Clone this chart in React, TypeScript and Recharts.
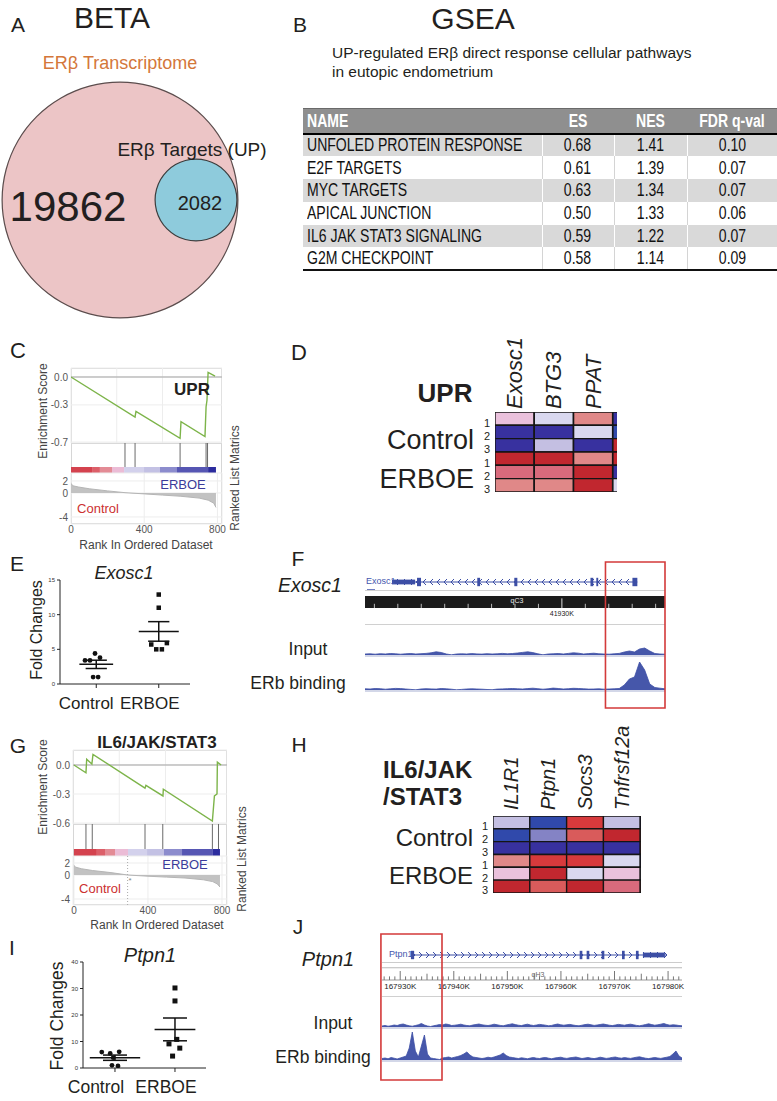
import React from 'react'
import {
  PieChart, Pie, LineChart, Line, AreaChart, Area, ComposedChart, ScatterChart, Scatter,
  BarChart, Bar, Cell, XAxis, YAxis, CartesianGrid, ReferenceLine, ReferenceArea,
} from 'recharts'

const SANS = '"Liberation Sans", Arial, Helvetica, sans-serif'
const INK = '#231f20'
const TRACK = '#3c4ea5'
const M0 = { top: 0, right: 0, bottom: 0, left: 0 }

// A: BETA overlap
const vennCounts = [19862, 2082]

// B: GSEA table
const pathwayNames = ['UNFOLED PROTEIN RESPONSE', 'E2F TARGETS', 'MYC TARGETS', 'APICAL JUNCTION', 'IL6 JAK STAT3 SIGNALING', 'G2M CHECKPOINT']
const esValues = [0.68, 0.61, 0.63, 0.5, 0.59, 0.58]
const nesValues = [1.41, 1.39, 1.34, 1.33, 1.22, 1.14]
const fdrValues = [0.1, 0.07, 0.07, 0.06, 0.07, 0.09]
const tableHead = ['NAME', 'ES', 'NES', 'FDR q-val']

// C / G: enrichment plots (rank, running ES)
const uprRank = [0, 350, 355, 596, 601, 732, 738, 743, 749, 787]
const uprES = [0, -0.43, -0.37, -0.66, -0.48, -0.64, -0.32, -0.25, 0.05, 0.01]
const uprHits = [295, 350, 596, 738, 746]
const uprBarEdges = [0, 115, 158, 224, 290, 399, 486, 579, 749, 792]
const uprMetricRank = [0, 10, 40, 100, 200, 295, 400, 500, 600, 700, 750, 780, 792]
const uprMetric = [1.6, 1.2, 1.0, 0.7, 0.35, 0.05, -0.15, -0.35, -0.55, -0.85, -1.2, -1.7, -2.4]

const il6Rank = [0, 65, 69, 97, 103, 384, 389, 481, 483, 748, 759, 773, 775, 795]
const il6ES = [0, -0.08, 0.06, 0.01, 0.11, -0.24, -0.21, -0.32, -0.25, -0.58, -0.32, -0.3, 0.03, 0]
const il6Hits = [65, 99, 384, 480, 748, 781]
const il6BarEdges = [0, 124, 168, 222, 292, 395, 486, 584, 751, 789]
const il6MetricRank = [0, 10, 40, 100, 200, 290, 400, 500, 600, 700, 750, 775, 789]
const il6Metric = [1.6, 1.3, 1.05, 0.75, 0.4, 0, -0.2, -0.35, -0.5, -0.8, -1.1, -1.5, -2.0]
const il6ZeroCross = 290
const gseaBarColors = ['#d4424e', '#dc5f69', '#e38b95', '#ebbcd6', '#d3d1ec', '#c3c1e4', '#8c8ccd', '#5656b3', '#2c2c9e']

// D / H: heatmaps (level index into palette, -4..6)
const heatPalette = ['#38319f', '#3049ab', '#8483c5', '#c4bfe2', '#d9d8ef', '#eac1dc', '#e08888', '#d96a7c', '#d95b5b', '#d73a3c', '#c1272f']
const uprGenes = ['Exosc1', 'BTG3', 'PPAT', '']
const uprLevels = [[1, 0, 2, -4], [-4, -4, 0, -3], [-4, -1, -4, 6], [6, 6, 2, 6], [3, 3, 6, -4], [2, 2, 6, 0]]
const il6Genes = ['IL1R1', 'Ptpn1', 'Socs3', 'Tnfrsf12a', '']
const il6Levels = [[-1, -3, 5, -1, -4], [-3, -2, 4, 6, 5], [-4, -4, -4, -4, 5], [2, 5, 5, 0, -4], [1, 6, 0, 1, -1], [6, 4, 6, 3, 5]]
const replicateLabels = ['1', '2', '3', '1', '2', '3']

// E / I: qPCR fold changes
const groups = ['Control', 'ERBOE']
const exoscCtrl = [4.4, 3.8, 3.4, 3.4, 1.0, 1.0]
const exoscErb = [12.9, 11.0, 5.7, 5.0, 5.0, 5.9]
const exoscCtrlJit = [-0.02, 0.06, -0.1, -0.18, -0.05, 0.03]
const exoscErbJit = [0, 0, -0.12, -0.04, 0.05, 0.13]
const ptpnCtrl = [6.0, 5.5, 6.1, 3.9, 1.0, 0.8]
const ptpnErb = [30.2, 25.3, 9.1, 10.8, 7.5, 4.5]
const ptpnCtrlJit = [-0.22, -0.08, 0.07, -0.03, -0.05, 0.05]
const ptpnErbJit = [0, 0, -0.1, 0.03, 0.08, -0.04]

// F / J: ChIP-seq browser views (kb)
const exoscDomain = [41921.6, 41934.4]
const exoscGene = [41922.75, 41933.22]
const exoscThick = [41922.75, 41923.74]
const exoscExons = [[41923.82, 41923.99], [41926.39, 41926.51], [41927.97, 41928.1], [41931.22, 41931.34], [41931.47, 41931.55], [41933.01, 41933.22]]
const exoscRulerKb = [41922, 41923, 41924, 41925, 41926, 41927, 41928, 41929, 41931, 41932, 41933, 41934]
const exoscLabelKb = [41930]
const exoscBox = [41931.86, 41934.4]
const exoscInput = [1, 1.2, 0.8, 1.3, 1, 1.5, 1.2, 0.8, 1.2, 1.5, 1, 1.3, 1.6, 2.2, 3.2, 2.5, 1, 0.2, 1, 1.2,
  1, 1.4, 1.1, 0.9, 1.3, 1, 1.2, 1.6, 1.2, 1.5, 2, 2.6, 3.2, 2.4, 1.2, 0.2, 1, 1.2, 1.5, 1,
  1.6, 2.2, 1.8, 1, 1.4, 1.8, 1.2, 1, 0.8, 1.2, 1.6, 3, 4, 3, 6, 7, 4, 1.5, 1, 0.8]
const exoscErbBinding = [1.2, 1, 1.5, 1.3, 0.8, 1.2, 1.6, 1.4, 1, 0.6, 0.2, 1, 1.3, 1.1, 0.9, 1.5, 1.2, 0.8, 0.2, 0.6,
  1, 1.2, 1, 0.8, 0.5, 0.3, 0.9, 1.1, 1.3, 1.5, 1.2, 1, 1.4, 1.8, 1.3, 0.8, 1.2, 1.9, 1.5, 1,
  1.3, 1.7, 1.5, 1.2, 0.9, 1, 1.2, 0.8, 1, 1.2, 1.5, 5, 11, 13, 28, 20, 6, 2.5, 1.8, 1.2]

const ptpnDomain = [167926.6, 167982.6]
const ptpnGene = [167932.0, 167979.8]
const ptpnThick = [167975.3, 167979.4]
const ptpnExons = [[167932.0, 167932.6], [167963.5, 167964.0], [167964.8, 167965.3], [167967.6, 167968.1], [167971.4, 167971.9], [167974.0, 167974.5]]
const ptpnLabelKb = [167930, 167940, 167950, 167960, 167970, 167980]
const ptpnBox = [167926.4, 167937.8]
const ptpnInput = [1, 1.5, 0.8, 1.2, 2, 1.5, 2.5, 3, 2, 1.2, 0.8, 1.5, 2.2, 3.5, 2, 1, 0.5, 1.2, 1.8, 2.5,
  2, 3, 2.5, 1.5, 1.8, 2.2, 2.8, 2, 1.5, 1.2, 2, 2.5, 3, 2.2, 1.8, 1.5, 2, 2.8, 2.2, 1.6,
  1.2, 2, 2.6, 3.2, 2.4, 1.8, 1.4, 2.2, 2.8, 2, 1.5, 2, 2.6, 2.2, 1.8, 1.2, 1.6, 2.4, 3, 2.2,
  1.8, 2.2, 2.6, 2, 1.5, 1.2, 1.8, 2.4, 2.8, 2.2, 1.6, 2, 2.5, 3, 2.4, 1.8, 1.4, 2, 2.6, 2.2,
  1.8, 2.4, 2.8, 2.2, 1.6, 1.2, 1.8, 2.5, 3.2, 2.4, 1.8, 2.2, 2.8, 3.5, 2.5, 1.8, 2.2, 2, 1.5, 1.2]
const ptpnErbBinding = [1.5, 2, 1.2, 2.5, 1.8, 1, 2, 3, 4, 12, 28, 9, 3, 14, 25, 6, 2, 1.5, 1, 0.5,
  2, 2.5, 3, 2, 2.8, 3.5, 4.5, 6, 8, 5, 3, 2.5, 2, 1.5, 2, 2.8, 2.2, 3, 4, 5,
  7, 4.5, 3, 2.5, 2, 1.5, 2.2, 1.8, 1.2, 2, 2.5, 1.8, 1.5, 2.2, 2.5, 1.8, 1.2, 2, 2.4, 2.8,
  2, 1.6, 2.2, 2.6, 3, 2.2, 1.5, 2, 2.5, 1.8, 1.4, 2, 2.8, 2.2, 1.6, 2, 2.6, 3, 2.2, 1.8,
  2.4, 2, 1.6, 2.2, 2.8, 3.2, 2.4, 1.8, 1.4, 2, 2.5, 2, 1.6, 2.2, 2.8, 3.5, 6, 9, 4, 2]

function Txt({ x, y, size, children, anchor = 'middle', color = INK, bold = false, italic = false, rot = false }: any) {
  const tx = anchor === 'start' ? '0' : anchor === 'end' ? '-100%' : '-50%'
  return (
    <div style={{
      position: 'absolute', left: x, top: y, whiteSpace: 'nowrap', lineHeight: 1.15,
      fontFamily: SANS, fontSize: size, color, fontWeight: bold ? 700 : 400,
      fontStyle: italic ? 'italic' : 'normal',
      transform: `translate(${tx}, -50%)${rot ? ' rotate(-90deg)' : ''}`,
    }}>{children}</div>
  )
}

function HLine({ x, y, w, color = '#c8c8c8', h = 1 }: any) {
  return <div style={{ position: 'absolute', left: x, top: y, width: w, height: h, background: color }} />
}

function Venn() {
  return (
    <div style={{ position: 'absolute', left: 0, top: 80 }}>
      <PieChart width={242} height={242} margin={M0}>
        <Pie data={[{ v: vennCounts[0] }]} dataKey="v" cx={120} cy={120} outerRadius={118} fill="#ecc5c6" stroke="none" isAnimationActive={false} />
        <Pie data={[{ v: vennCounts[0] }]} dataKey="v" cx={120} cy={120} innerRadius={117.3} outerRadius={118.5} fill="#5b4d4d" stroke="none" isAnimationActive={false} />
        <Pie data={[{ v: vennCounts[1] }]} dataKey="v" cx={196} cy={120} outerRadius={41} fill="#8ecbdc" stroke="none" isAnimationActive={false} />
        <Pie data={[{ v: vennCounts[1] }]} dataKey="v" cx={196} cy={120} innerRadius={40.3} outerRadius={41.5} fill="#3d3d3d" stroke="none" isAnimationActive={false} />
      </PieChart>
    </div>
  )
}

// Calibri-like narrow look: Liberation Sans squeezed horizontally
function Narrow({ children, left }: any) {
  return (
    <span style={{ display: 'inline-block', transform: 'scaleX(0.78)', transformOrigin: left ? 'left center' : 'center center' }}>{children}</span>
  )
}

function GseaTable() {
  const cols = [239, 72, 73, 90]
  const cell = (r: number, c: number): React.CSSProperties => ({
    padding: c === 0 ? '0 0 0 4px' : 0,
    textAlign: c === 0 ? 'left' : 'center',
    borderLeft: c === 0 ? 'none' : `1.5px solid ${r % 2 === 0 ? '#ffffff' : '#d4d4d4'}`,
    borderBottom: r === pathwayNames.length - 1 ? '2px solid #111' : 'none',
    whiteSpace: 'nowrap',
    overflow: 'visible',
  })
  return (
    <table style={{ position: 'absolute', left: 303, top: 108, width: 474, borderCollapse: 'collapse', tableLayout: 'fixed', fontFamily: SANS, fontSize: 18, color: '#111', lineHeight: 1 }}>
      <colgroup>{cols.map((w, i) => <col key={i} style={{ width: w }} />)}</colgroup>
      <thead>
        <tr style={{ height: 25, background: '#8f8f8f', color: '#fff' }}>
          {tableHead.map((h, i) => (
            <th key={h} style={{ padding: i === 0 ? '0 0 0 4px' : 0, textAlign: i === 0 ? 'left' : 'center', borderTop: '1.5px solid #6a6a6a', borderBottom: '2.5px solid #000', fontWeight: 700, whiteSpace: 'nowrap' }}>
              <Narrow left={i === 0}>{h}</Narrow>
            </th>
          ))}
        </tr>
      </thead>
      <tbody>
        {pathwayNames.map((n, r) => (
          <tr key={n} style={{ height: 22.8, background: r % 2 === 0 ? '#d9d9d9' : '#fff' }}>
            <td style={cell(r, 0)}><Narrow left>{n}</Narrow></td>
            <td style={cell(r, 1)}><Narrow>{esValues[r].toFixed(2)}</Narrow></td>
            <td style={cell(r, 2)}><Narrow>{nesValues[r].toFixed(2)}</Narrow></td>
            <td style={cell(r, 3)}><Narrow>{fdrValues[r].toFixed(2)}</Narrow></td>
          </tr>
        ))}
      </tbody>
    </table>
  )
}

function Gsea(p: any) {
  const yw = 28
  const pad = 7
  const tick = { fontSize: 10, fill: '#555', fontFamily: SANS }
  const esData = p.rank.map((r: number, i: number) => ({ r, es: p.es[i] }))
  const mData = p.metricRank.map((r: number, i: number) => ({ r, m: p.metric[i] }))
  const hitData = p.hits.map((r: number) => ({ r, y: 1 }))
  const barFrac = p.barH / (p.hitH + p.barH)
  const hitTop = p.top + p.esH
  const rankTop = hitTop + p.hitH + p.barH
  return (
    <>
      <div style={{ position: 'absolute', left: p.plotLeft, top: p.top, width: p.plotW, height: rankTop + p.rankH - p.top, border: '1px solid #d6d6d6', boxSizing: 'border-box' }} />
      <HLine x={p.plotLeft} y={hitTop} w={p.plotW} color="#c4c4c4" />
      <div style={{ position: 'absolute', left: p.plotLeft - yw, top: p.top - pad }}>
        <LineChart width={yw + p.plotW} height={p.esH + 2 * pad} data={esData} margin={{ top: pad, right: 0, bottom: pad, left: 0 }}>
          <CartesianGrid stroke="#ededed" />
          <XAxis type="number" dataKey="r" domain={p.xDomain} allowDataOverflow hide />
          <YAxis type="number" domain={p.esDomain} allowDataOverflow ticks={p.esTicks} interval={0} width={yw} tick={tick}
            tickFormatter={(v: number) => v.toFixed(1)} axisLine={false} tickLine={false} tickSize={0} tickMargin={3} />
          <ReferenceLine y={0} stroke="#a3a3a3" />
          <Line type="linear" dataKey="es" stroke="#7db44a" strokeWidth={1.4} dot={false} isAnimationActive={false} />
        </LineChart>
      </div>
      <div style={{ position: 'absolute', left: p.plotLeft, top: hitTop }}>
        <ComposedChart width={p.plotW} height={p.hitH + p.barH} data={hitData} margin={M0}>
          <XAxis type="number" dataKey="r" domain={p.xDomain} allowDataOverflow hide />
          <YAxis type="number" domain={[0, 1]} allowDataOverflow hide />
          {p.barEdges.slice(1).map((e: number, i: number) => (
            <ReferenceArea key={'b' + i} x1={p.barEdges[i]} x2={e} y1={0} y2={barFrac} fill={gseaBarColors[i]} fillOpacity={1} stroke="none" />
          ))}
          {p.hits.map((h: number) => (
            <ReferenceLine key={'h' + h} segment={[{ x: h, y: barFrac }, { x: h, y: 1 }]} stroke="#6a6a6a" strokeWidth={1} />
          ))}
          <Line dataKey="y" stroke="none" dot={false} isAnimationActive={false} />
        </ComposedChart>
      </div>
      <div style={{ position: 'absolute', left: p.plotLeft - yw, top: rankTop - pad }}>
        <AreaChart width={yw + p.plotW + 12} height={p.rankH + 16 + pad} data={mData} margin={{ top: pad, right: 12, bottom: 0, left: 0 }}>
          <CartesianGrid stroke="#ededed" />
          <XAxis type="number" dataKey="r" domain={p.xDomain} allowDataOverflow ticks={[0, 400, 800]} interval={0} height={16}
            tick={tick} axisLine={false} tickLine={false} tickSize={0} tickMargin={2} />
          <YAxis type="number" domain={p.rankDomain} allowDataOverflow ticks={[2, 0, -4]} interval={0} width={yw} tick={tick}
            axisLine={false} tickLine={false} tickSize={0} tickMargin={3} />
          {p.zeroCross != null && <ReferenceLine x={p.zeroCross} stroke="#aaa" strokeDasharray="1 2" />}
          <Area type="linear" dataKey="m" stroke="#b5b5b5" fill="#c2c2c2" fillOpacity={1} isAnimationActive={false} />
        </AreaChart>
      </div>
    </>
  )
}

function Heatmap({ left, top, genes, levels, cellW, cellH, visibleW, labelH, gap, labelSize }: any) {
  const yw = 16
  const n = levels.length
  const data = genes.map((g: string) => {
    const o: any = { g }
    for (let r = 0; r < n; r++) o['r' + r] = 1
    return o
  })
  const GeneTick = (t: any) => t.payload && t.payload.value ? (
    <text x={t.x} y={labelH - gap} transform={`rotate(-90, ${t.x}, ${labelH - gap})`} textAnchor="start" dominantBaseline="central"
      fontSize={labelSize} fontStyle="italic" fontFamily={SANS} fill={INK}>{t.payload.value}</text>
  ) : <g />
  return (
    <>
      <div style={{ position: 'absolute', left, top: top - labelH, width: visibleW, height: labelH + n * cellH + 1, overflow: 'hidden' }}>
        <BarChart width={genes.length * cellW} height={labelH + n * cellH} data={data} margin={M0} barCategoryGap={0} barGap={0}>
          <XAxis dataKey="g" orientation="top" height={labelH} axisLine={false} tickLine={false} interval={0} tick={GeneTick} />
          <YAxis type="number" domain={[0, n]} allowDataOverflow reversed hide />
          {levels.map((row: number[], r: number) => (
            <Bar key={r} dataKey={'r' + r} stackId="h" isAnimationActive={false} stroke="#151515" strokeWidth={1.4}>
              {row.map((lv, c) => <Cell key={c} fill={heatPalette[lv + 4]} />)}
            </Bar>
          ))}
        </BarChart>
      </div>
      <div style={{ position: 'absolute', left: left - yw, top: top - 6 }}>
        <BarChart width={yw} height={n * cellH + 12} data={data} margin={{ top: 6, right: 0, bottom: 6, left: 0 }}>
          <XAxis dataKey="g" hide />
          <YAxis type="number" domain={[0, n]} allowDataOverflow reversed ticks={levels.map((_: any, r: number) => r + 0.5)} interval={0}
            tickFormatter={(v: number) => replicateLabels[Math.floor(v)]} width={yw} axisLine={false} tickLine={false} tickSize={0} tickMargin={5}
            tick={{ fontSize: 11, fill: INK, fontFamily: SANS, dy: 4 }} />
        </BarChart>
      </div>
    </>
  )
}

function stats(a: number[]) {
  const m = a.reduce((s, v) => s + v, 0) / a.length
  const sd = Math.sqrt(a.reduce((s, v) => s + (v - m) ** 2, 0) / (a.length - 1))
  return [m, sd / Math.sqrt(a.length)]
}

function DotPlot(p: any) {
  const yw = 22
  const ctrlData = p.ctrl.map((v: number, i: number) => ({ x: p.ctrlJit[i], y: v }))
  const erbData = p.erb.map((v: number, i: number) => ({ x: 1 + p.erbJit[i], y: v }))
  const st = [stats(p.ctrl), stats(p.erb)]
  const GroupTick = (t: any) => (
    <text x={t.x + p.labelDx[t.index]} y={t.y} dy={p.labelSize * 1.1} textAnchor="middle" fontSize={p.labelSize} fontFamily={SANS} fill={INK}>
      {groups[t.payload.value]}
    </text>
  )
  const ln = { stroke: '#111', strokeWidth: 1.5 }
  return (
    <div style={{ position: 'absolute', left: p.left - yw, top: p.top - 5 }}>
      <ScatterChart width={yw + p.plotW + 4} height={5 + p.plotH + 32} margin={{ top: 5, right: 4, bottom: 0, left: 0 }}>
        <XAxis type="number" dataKey="x" domain={p.xDomain} allowDataOverflow ticks={[0, 1]} interval={0} height={32} tickSize={4}
          stroke="#222" tick={GroupTick} />
        <YAxis type="number" dataKey="y" domain={p.yDomain} allowDataOverflow ticks={p.yTicks} interval={0} width={yw} tickSize={3}
          stroke="#222" tick={{ fontSize: 6, fill: '#333', fontFamily: SANS }} />
        {st.flatMap(([m, se], g) => [
          <ReferenceLine key={'m' + g} segment={[{ x: g - p.meanHW[g], y: m }, { x: g + p.meanHW[g], y: m }]} {...ln} />,
          <ReferenceLine key={'u' + g} segment={[{ x: g - p.semHW, y: m + se }, { x: g + p.semHW, y: m + se }]} {...ln} />,
          <ReferenceLine key={'d' + g} segment={[{ x: g - p.semHW, y: m - se }, { x: g + p.semHW, y: m - se }]} {...ln} />,
          <ReferenceLine key={'v' + g} segment={[{ x: g, y: m - se }, { x: g, y: m + se }]} {...ln} />,
        ])}
        <Scatter data={ctrlData} isAnimationActive={false}
          shape={(s: any) => <circle cx={s.cx} cy={s.cy} r={2.4} fill="#111" />} />
        <Scatter data={erbData} isAnimationActive={false}
          shape={(s: any) => <rect x={s.cx - p.sq / 2} y={s.cy - p.sq / 2} width={p.sq} height={p.sq} fill="#111" />} />
      </ScatterChart>
    </div>
  )
}

function GeneTrack({ left, top, width, domain, gene, thick, exons, strand, id }: any) {
  const chev = strand < 0 ? 'M5,1 L2,4 L5,7' : 'M2,1 L5,4 L2,7'
  return (
    <div style={{ position: 'absolute', left, top }}>
      <LineChart width={width} height={12} data={[{ x: gene[0], y: 0 }, { x: gene[1], y: 0 }]} margin={M0}>
        <defs>
          <pattern id={id} x={0} y={2} width={7} height={8} patternUnits="userSpaceOnUse">
            <path d={chev} stroke={TRACK} fill="none" strokeWidth={1} />
          </pattern>
        </defs>
        <XAxis type="number" dataKey="x" domain={domain} allowDataOverflow hide />
        <YAxis type="number" domain={[-1, 1]} allowDataOverflow hide />
        <ReferenceArea x1={gene[0]} x2={gene[1]} y1={-0.67} y2={0.67} fill={`url(#${id})`} fillOpacity={1} stroke="none" />
        <Line dataKey="y" stroke={TRACK} strokeWidth={1.2} dot={false} isAnimationActive={false} />
        <ReferenceArea x1={thick[0]} x2={thick[1]} y1={-0.4} y2={0.4} fill={TRACK} fillOpacity={1} stroke="none" />
        {exons.map((e: number[], i: number) => (
          <ReferenceArea key={i} x1={e[0]} x2={e[1]} y1={-0.7} y2={0.7} fill={TRACK} fillOpacity={1} stroke="none" />
        ))}
      </LineChart>
    </div>
  )
}

function Track({ left, top, width, height, values, max }: any) {
  const data = values.map((v: number, i: number) => ({ i, v }))
  return (
    <div style={{ position: 'absolute', left, top }}>
      <AreaChart width={width} height={height} data={data} margin={M0}>
        <XAxis type="number" dataKey="i" domain={[0, values.length - 1]} allowDataOverflow hide />
        <YAxis type="number" domain={[0, max]} allowDataOverflow hide />
        <Area type="linear" dataKey="v" stroke={TRACK} strokeWidth={0.8} fill={TRACK} fillOpacity={0.95} isAnimationActive={false} />
      </AreaChart>
    </div>
  )
}

function Highlight({ left, top, width, height, domain, box }: any) {
  return (
    <div style={{ position: 'absolute', left, top }}>
      <LineChart width={width} height={height} data={[{ x: domain[0] }, { x: domain[1] }]} margin={{ top: 1, right: 0, bottom: 1, left: 0 }}>
        <XAxis type="number" dataKey="x" domain={domain} allowDataOverflow hide />
        <YAxis type="number" domain={[0, 1]} allowDataOverflow hide />
        <ReferenceArea x1={box[0]} x2={box[1]} y1={0} y2={1} fill="none" fillOpacity={0} stroke="#d33a3a" strokeWidth={1.6} ifOverflow="visible" />
      </LineChart>
    </div>
  )
}

function ExoscIdeogram() {
  return (
    <div style={{ position: 'absolute', left: 365, top: 596 }}>
      <ComposedChart width={300} height={26} data={[{ x: exoscDomain[0] }, { x: exoscDomain[1] }]} margin={M0}>
        <XAxis type="number" dataKey="x" domain={exoscDomain} allowDataOverflow ticks={exoscLabelKb} interval={0} height={14}
          tickFormatter={(v: number) => `${v}K`} tick={{ fontSize: 7, fill: '#222', fontFamily: SANS }} axisLine={false} tickLine={false} tickSize={0} tickMargin={3} />
        <YAxis type="number" domain={[0, 1]} allowDataOverflow hide />
        <ReferenceArea x1={exoscDomain[0]} x2={exoscDomain[1]} y1={0} y2={1} fill="#1c1c1c" fillOpacity={1} stroke="none" />
        {exoscRulerKb.map((k) => (
          <ReferenceLine key={k} segment={[{ x: k, y: 0 }, { x: k, y: 0.35 }]} stroke="#bbb" />
        ))}
        {exoscLabelKb.map((k) => (
          <ReferenceLine key={'L' + k} segment={[{ x: k, y: 0 }, { x: k, y: 0.8 }]} stroke="#ddd" />
        ))}
      </ComposedChart>
    </div>
  )
}

function PtpnRuler() {
  const minor: number[] = []
  for (let k = Math.ceil(ptpnDomain[0]); k <= ptpnDomain[1]; k++) minor.push(k)
  return (
    <div style={{ position: 'absolute', left: 382, top: 962 }}>
      <ComposedChart width={318} height={32} data={[{ x: ptpnDomain[0] }, { x: ptpnDomain[1] }]} margin={{ top: 0, right: 18, bottom: 0, left: 0 }}>
        <XAxis type="number" dataKey="x" domain={ptpnDomain} allowDataOverflow ticks={ptpnLabelKb} interval={0} height={14}
          tickFormatter={(v: number) => `${v}K`} tick={{ fontSize: 8, fill: '#222', fontFamily: SANS }} axisLine={false} tickLine={false} tickSize={0} tickMargin={3} />
        <YAxis type="number" domain={[0, 1]} allowDataOverflow hide />
        <ReferenceLine y={1} stroke="#9a9a9a" />
        <ReferenceLine y={0.68} stroke="#b8b8b8" />
        <ReferenceLine y={0} stroke="#9a9a9a" />
        {minor.map((k) => (
          <ReferenceLine key={k} segment={[{ x: k, y: 0 }, { x: k, y: k % 10 === 0 ? 0.5 : k % 5 === 0 ? 0.35 : 0.2 }]} stroke="#777" />
        ))}
      </ComposedChart>
    </div>
  )
}

export default function App() {
  return (
    <div style={{ position: 'absolute', left: 0, top: 0, width: 777, height: 1101, background: '#fff', overflow: 'hidden', fontFamily: SANS, color: INK }}>
      {/* A */}
      <Txt x={18} y={25} size={21}>A</Txt>
      <Txt x={112} y={18} size={30}>BETA</Txt>
      <Txt x={120} y={63} size={18} color="#d4773a">ERβ Transcriptome</Txt>
      <Venn />
      <Txt x={192} y={150} size={19}>ERβ Targets (UP)</Txt>
      <Txt x={68} y={207} size={42}>{vennCounts[0]}</Txt>
      <Txt x={200} y={203} size={20}>{vennCounts[1]}</Txt>

      {/* B */}
      <Txt x={300} y={25} size={21}>B</Txt>
      <Txt x={473} y={19} size={30}>GSEA</Txt>
      <Txt x={332} y={53} size={15.5} anchor="start">UP-regulated ERβ direct response cellular pathways</Txt>
      <Txt x={332} y={72} size={15.5} anchor="start">in eutopic endometrium</Txt>
      <GseaTable />

      {/* C */}
      <Txt x={18} y={351} size={22}>C</Txt>
      <Gsea plotLeft={71} plotW={151} top={368} esH={75} hitH={24} barH={6} rankH={51}
        xDomain={[0, 825]} esDomain={[-0.71, 0.097]} esTicks={[0, -0.3, -0.7]} rankDomain={[-5.17, 3.33]}
        rank={uprRank} es={uprES} hits={uprHits} barEdges={uprBarEdges} metricRank={uprMetricRank} metric={uprMetric} />
      <Txt x={192} y={390} size={17} bold>UPR</Txt>
      <Txt x={44} y={411} size={12} rot color="#444">Enrichment Score</Txt>
      <Txt x={236} y={478} size={12} rot color="#444">Ranked List Matrics</Txt>
      <Txt x={146} y={546} size={12} color="#444">Rank In Ordered Dataset</Txt>
      <Txt x={183} y={485} size={13} color="#3b3b9a">ERBOE</Txt>
      <Txt x={98} y={509} size={13} color="#cc3030">Control</Txt>

      {/* D */}
      <Txt x={299} y={353} size={22}>D</Txt>
      <Txt x={445} y={394} size={26} bold>UPR</Txt>
      <Txt x={474} y={441} size={27} anchor="end">Control</Txt>
      <Txt x={474} y={480} size={27} anchor="end">ERBOE</Txt>
      <Heatmap left={495} top={412} genes={uprGenes} levels={uprLevels} cellW={39.3} cellH={13.33} visibleW={122} labelH={80} gap={3} labelSize={22} />

      {/* E */}
      <Txt x={17} y={564} size={21}>E</Txt>
      <Txt x={124} y={573} size={18} italic>Exosc1</Txt>
      <Txt x={37} y={630} size={16} rot>Fold Changes</Txt>
      <DotPlot left={60} top={580} plotW={130} plotH={104} xDomain={[-0.58, 1.5]} yDomain={[0, 15]} yTicks={[0, 5, 10, 15]}
        ctrl={exoscCtrl} erb={exoscErb} ctrlJit={exoscCtrlJit} erbJit={exoscErbJit} meanHW={[0.27, 0.32]} semHW={0.17}
        labelDx={[-10, -9]} labelSize={17} sq={4.5} />

      {/* F */}
      <Txt x={298} y={559} size={21}>F</Txt>
      <Txt x={310} y={585} size={19.5} italic>Exosc1</Txt>
      <Txt x={308} y={649} size={17.5}>Input</Txt>
      <Txt x={298} y={683} size={17.5}>ERb binding</Txt>
      <GeneTrack left={365} top={576} width={300} domain={exoscDomain} gene={exoscGene} thick={exoscThick} exons={exoscExons} strand={-1} id="chevF" />
      <Txt x={366} y={581} size={9} anchor="start" color="#4456ae">Exosc1</Txt>
      <HLine x={367} y={589} w={8} color="#6f7cc0" />
      <HLine x={365} y={590} w={300} color="#d0d0d0" />
      <ExoscIdeogram />
      <Txt x={517} y={601} size={7} color="#eee">qC3</Txt>
      <HLine x={365} y={624} w={300} color="#d0d0d0" />
      <HLine x={365} y={655} w={300} color="#d3d7e8" h={2} />
      <Track left={365} top={625} width={300} height={30} values={exoscInput} max={30} />
      <HLine x={365} y={690} w={300} color="#d3d7e8" h={2} />
      <Track left={365} top={658} width={300} height={32} values={exoscErbBinding} max={32} />
      <Highlight left={365} top={561} width={302} height={148} domain={[exoscDomain[0], exoscDomain[0] + 302 / 23.4375]} box={exoscBox} />

      {/* G */}
      <Txt x={18} y={746} size={21}>G</Txt>
      <Txt x={157} y={743} size={17} bold>IL6/JAK/STAT3</Txt>
      <Gsea plotLeft={73} plotW={154} top={750} esH={74} hitH={25} barH={7} rankH={49}
        xDomain={[-5, 827]} esDomain={[-0.61, 0.155]} esTicks={[0, -0.3, -0.6]} rankDomain={[-5.0, 3.17]}
        rank={il6Rank} es={il6ES} hits={il6Hits} barEdges={il6BarEdges} metricRank={il6MetricRank} metric={il6Metric} zeroCross={il6ZeroCross} />
      <Txt x={44} y={787} size={12} rot color="#444">Enrichment Score</Txt>
      <Txt x={243} y={859} size={12} rot color="#444">Ranked List Matrics</Txt>
      <Txt x={157} y={926} size={12} color="#444">Rank In Ordered Dataset</Txt>
      <Txt x={185} y={865} size={13} color="#3b3b9a">ERBOE</Txt>
      <Txt x={100} y={889} size={13} color="#cc3030">Control</Txt>
      <Txt x={130} y={881} size={8} color="#888">*</Txt>

      {/* H */}
      <Txt x={299} y={745} size={21}>H</Txt>
      <Txt x={383} y={770} size={24} bold anchor="start">IL6/JAK</Txt>
      <Txt x={383} y={797} size={24} bold anchor="start">/STAT3</Txt>
      <Txt x={473} y={838} size={24} anchor="end">Control</Txt>
      <Txt x={473} y={876} size={24} anchor="end">ERBOE</Txt>
      <Heatmap left={493} top={816} genes={il6Genes} levels={il6Levels} cellW={36.8} cellH={12.83} visibleW={148} labelH={104} gap={6} labelSize={20} />

      {/* I */}
      <Txt x={12} y={948} size={21}>I</Txt>
      <Txt x={150} y={955} size={20} italic>Ptpn1</Txt>
      <Txt x={57} y={1016} size={17.5} rot>Fold Changes</Txt>
      <DotPlot left={83} top={962} plotW={123} plotH={106} xDomain={[-0.533, 1.517]} yDomain={[0, 40]} yTicks={[0, 10, 20, 30, 40]}
        ctrl={ptpnCtrl} erb={ptpnErb} ctrlJit={ptpnCtrlJit} erbJit={ptpnErbJit} meanHW={[0.42, 0.34]} semHW={0.2}
        labelDx={[-19, -9]} labelSize={17.5} sq={5} />

      {/* J */}
      <Txt x={298} y={927} size={21}>J</Txt>
      <Txt x={328} y={959} size={20} italic>Ptpn1</Txt>
      <Txt x={333} y={1023} size={17.5}>Input</Txt>
      <Txt x={323} y={1057} size={17.5}>ERb binding</Txt>
      <GeneTrack left={382} top={949} width={300} domain={ptpnDomain} gene={ptpnGene} thick={ptpnThick} exons={ptpnExons} strand={1} id="chevJ" />
      <Txt x={389} y={954} size={9} anchor="start" color="#4456ae">Ptpn1</Txt>
      <PtpnRuler />
      <Txt x={538} y={975} size={7} color="#666">qH3</Txt>
      <HLine x={382} y={996} w={300} color="#d0d0d0" />
      <HLine x={382} y={1027} w={300} color="#d3d7e8" h={2} />
      <Track left={382} top={1007} width={300} height={20} values={ptpnInput} max={20} />
      <HLine x={382} y={1060} w={300} color="#d3d7e8" h={2} />
      <Track left={382} top={1030} width={300} height={30} values={ptpnErbBinding} max={30} />
      <Highlight left={376} top={933} width={306} height={148} domain={[ptpnDomain[0] - 6 / 5.357, ptpnDomain[1]]} box={ptpnBox} />
    </div>
  )
}
